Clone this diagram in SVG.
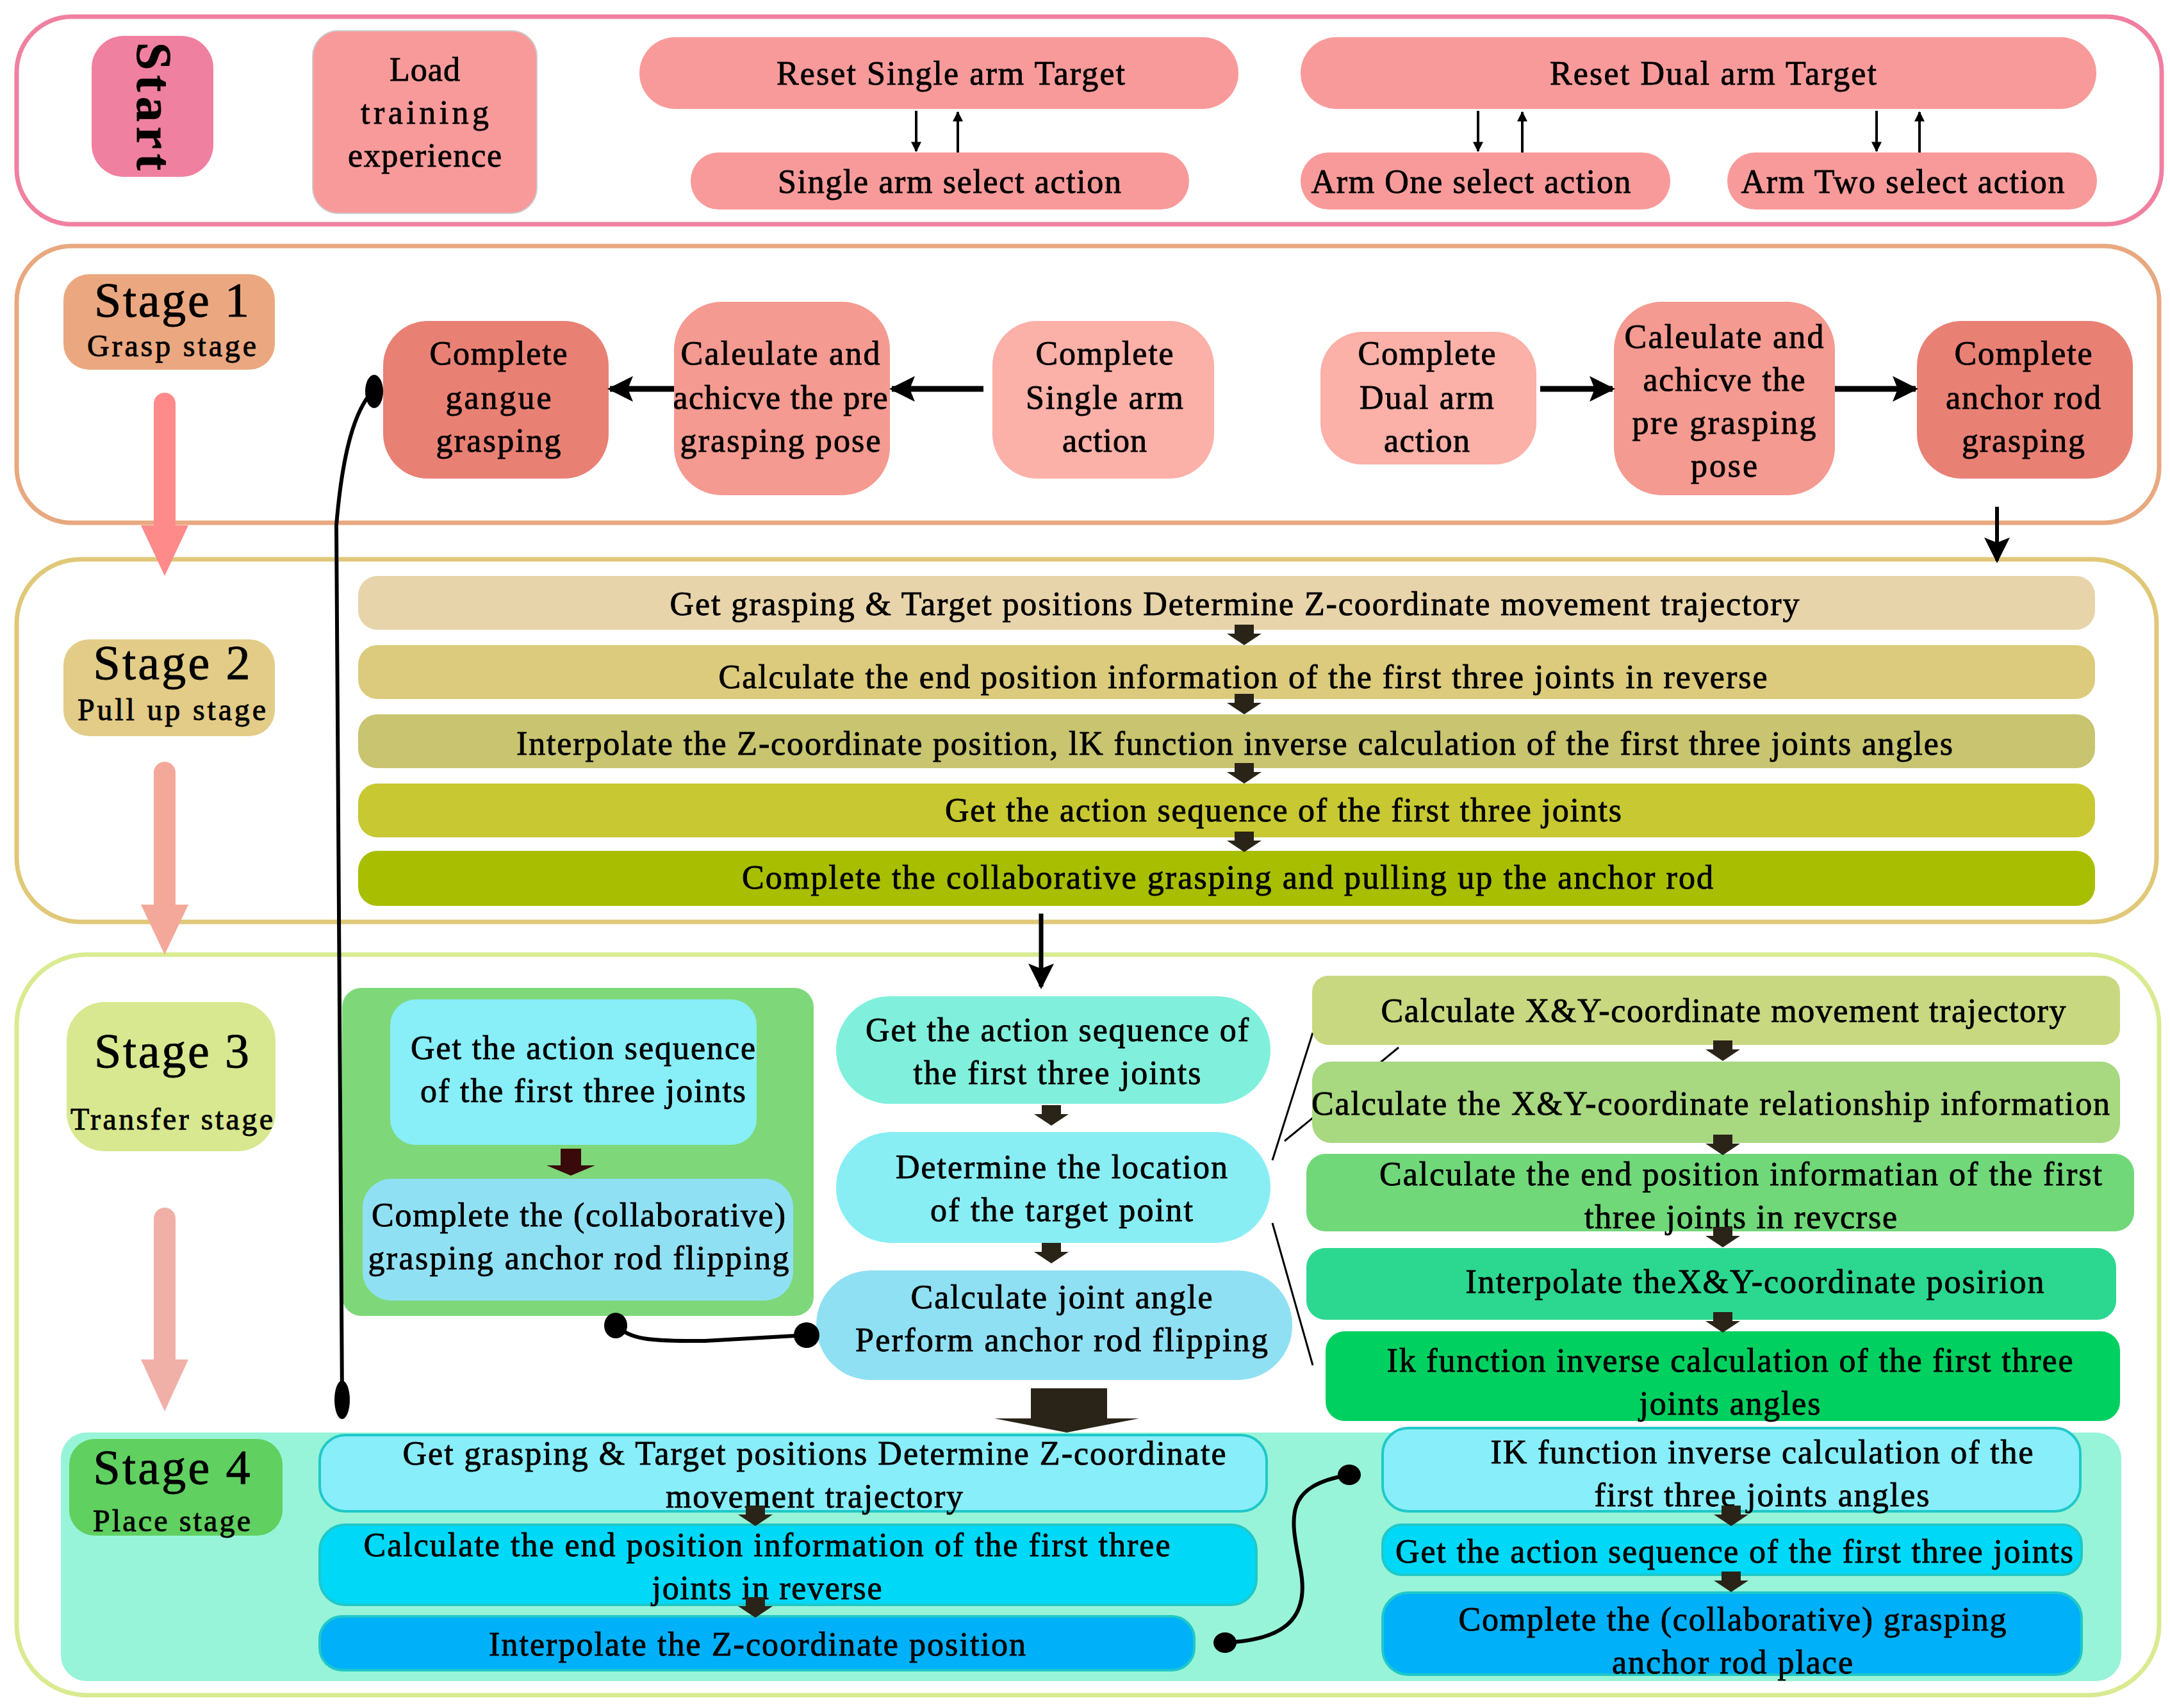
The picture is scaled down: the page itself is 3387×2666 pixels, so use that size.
<svg xmlns="http://www.w3.org/2000/svg" width="3387" height="2666" viewBox="0 0 3387 2666">
<style>
text{font-family:"Liberation Serif",serif;font-size:52px;fill:#000;stroke:#000;stroke-width:0.9;text-anchor:middle;lengthAdjust:spacingAndGlyphs}
.st{font-size:76px}
.ss{font-size:48px}
.frame{fill:none;stroke-width:7}
.ln{stroke:#000;fill:none}
</style>
<defs>
<marker id="hb" viewBox="0 0 10 10" refX="9" refY="5" markerWidth="44" markerHeight="40" markerUnits="userSpaceOnUse" orient="auto"><path d="M0,0 L10,5 L0,10 L2,5 z" fill="#000"/></marker>
<marker id="hs" viewBox="0 0 10 10" refX="9" refY="5" markerWidth="26" markerHeight="16" markerUnits="userSpaceOnUse" orient="auto"><path d="M0,0 L10,5 L0,10 z" fill="#000"/></marker>
<path id="sa" d="M-15,-20 h30 v14 h12 l-27,18 l-27,-18 h12 z" fill="#2a2418"/>
</defs>
<rect width="3387" height="2666" fill="#fff"/>

<g id="frames">
<rect class="frame" x="26" y="26" width="3348" height="324" rx="86" stroke="#F080A0"/>
<rect class="frame" x="26" y="384" width="3344" height="432" rx="86" stroke="#E8A880"/>
<rect class="frame" x="26" y="873" width="3340" height="566" rx="100" stroke="#E0C878"/>
<rect class="frame" x="26" y="1490" width="3344" height="1156" rx="110" stroke="#D8EB90"/>
<rect x="95" y="2236" width="3216" height="388" rx="40" fill="#98F4D8"/>
</g>

<g id="start"><rect x="143" y="56" width="190" height="220" rx="50" fill="#F080A0"/>
<text x="0" y="0" transform="translate(214,166) rotate(90)" style="font-size:78px;font-weight:bold" textLength="200">Start</text></g>
<g id="load"><rect x="488" y="48" width="350" height="285" rx="40" fill="#F99A9A" stroke="#ccc" stroke-width="2"/>
<text x="663" y="126" textLength="110">Load</text><text x="663" y="193" textLength="200">training</text><text x="663" y="260" textLength="240">experience</text></g>
<g id="resetSingle"><rect x="998" y="58" width="935" height="112" rx="56" fill="#F99A9A"/><text x="1484" y="132" textLength="544">Reset Single arm Target</text></g>
<g id="singleSelect"><rect x="1078" y="238" width="778" height="89" rx="44" fill="#F99A9A"/><text x="1482" y="301" textLength="536">Single arm select action</text></g>
<g id="resetDual"><rect x="2030" y="58" width="1242" height="112" rx="56" fill="#F99A9A"/><text x="2674" y="132" textLength="510">Reset Dual arm Target</text></g>
<g id="armOne"><rect x="2030" y="238" width="577" height="89" rx="44" fill="#F99A9A"/><text x="2296" y="301" textLength="499">Arm One select action</text></g>
<g id="armTwo"><rect x="2696" y="238" width="577" height="89" rx="44" fill="#F99A9A"/><text x="2970" y="301" textLength="505">Arm Two select action</text></g>

<g id="stage1"><rect x="99" y="428" width="330" height="149" rx="40" fill="#EBA880"/>
<text class="st" x="268" y="494" textLength="242">Stage 1</text><text class="ss" x="268" y="556" textLength="264">Grasp stage</text></g>
<g id="gangue"><rect x="598" y="501" width="352" height="246" rx="70" fill="#E98074"/>
<text x="778" y="569" textLength="215">Complete</text><text x="778" y="638" textLength="165">gangue</text><text x="778" y="705" textLength="195">grasping</text></g>
<g id="calc1"><rect x="1052" y="471" width="337" height="302" rx="75" fill="#F49A90"/>
<text x="1218" y="569" textLength="311">Caleulate and</text><text x="1218" y="638" textLength="335">achicve the pre</text><text x="1218" y="705" textLength="313">grasping pose</text></g>
<g id="single1"><rect x="1549" y="501" width="346" height="246" rx="70" fill="#FBB0A8"/>
<text x="1724" y="569" textLength="215">Complete</text><text x="1724" y="638" textLength="246">Single arm</text><text x="1724" y="705" textLength="132">action</text></g>
<g id="dual1"><rect x="2061" y="518" width="337" height="207" rx="65" fill="#FBB0A8"/>
<text x="2227" y="569" textLength="215">Complete</text><text x="2227" y="638" textLength="210">Dual arm</text><text x="2227" y="705" textLength="134">action</text></g>
<g id="calc2"><rect x="2519" y="471" width="345" height="302" rx="75" fill="#F49A90"/>
<text x="2691" y="543" textLength="311">Caleulate and</text><text x="2691" y="610" textLength="253">achicve the</text><text x="2691" y="677" textLength="287">pre grasping</text><text x="2691" y="744" textLength="104">pose</text></g>
<g id="anchor1"><rect x="2992" y="501" width="337" height="246" rx="70" fill="#E98074"/>
<text x="3158" y="569" textLength="215">Complete</text><text x="3158" y="638" textLength="242">anchor rod</text><text x="3158" y="705" textLength="192">grasping</text></g>

<g id="stage2"><rect x="99" y="998" width="330" height="151" rx="40" fill="#E3CC88"/>
<text class="st" x="268" y="1060" textLength="245">Stage 2</text><text class="ss" x="268" y="1124" textLength="294">Pull up stage</text></g>
<g id="bar1"><rect x="559" y="899" width="2711" height="84" rx="30" fill="#E8D4AA"/><text x="1927" y="960" textLength="1763">Get grasping &amp; Target positions Determine Z-coordinate movement trajectory</text></g>
<g id="bar2"><rect x="559" y="1007" width="2711" height="84" rx="30" fill="#DCCB7C"/><text x="1940" y="1074" textLength="1637">Calculate the end position information of the first three joints in reverse</text></g>
<g id="bar3"><rect x="559" y="1115" width="2711" height="84" rx="30" fill="#C8C470"/><text x="1927" y="1178" textLength="2242">Interpolate the Z-coordinate position, lK function inverse calculation of the first three joints angles</text></g>
<g id="bar4"><rect x="559" y="1223" width="2711" height="84" rx="30" fill="#C8C832"/><text x="2003" y="1282" textLength="1056">Get the action sequence of the first three joints</text></g>
<g id="bar5"><rect x="559" y="1328" width="2711" height="86" rx="30" fill="#A8BE00"/><text x="1916" y="1387" textLength="1516">Complete the collaborative grasping and pulling up the anchor rod</text></g>

<g id="stage3"><rect x="104" y="1564" width="326" height="233" rx="60" fill="#D8E890"/>
<text class="st" x="268" y="1666" textLength="242">Stage 3</text><text class="ss" x="268" y="1763" textLength="316">Transfer stage</text></g>
<g id="greenBox"><rect x="534" y="1542" width="736" height="512" rx="30" fill="#7ED87A"/>
<rect x="609" y="1560" width="572" height="227" rx="40" fill="#88EEF8"/>
<text x="910" y="1653" textLength="538">Get the action sequence</text><text x="910" y="1720" textLength="508">of the first three joints</text>
<rect x="566" y="1840" width="672" height="190" rx="45" fill="#90E0F4"/>
<text x="903" y="1914" textLength="646">Complete the (collaborative)</text><text x="903" y="1981" textLength="657">grasping anchor rod flipping</text></g>

<g id="thin" class="ln" stroke-width="3">
<line x1="1986" y1="1811" x2="2049" y2="1612"/>
<line x1="2005" y1="1781" x2="2183" y2="1635"/>
<line x1="1986" y1="1909" x2="2049" y2="2131"/>
</g>

<g id="mid1"><rect x="1305" y="1555" width="678" height="168" rx="84" fill="#80F0DC"/>
<text x="1650" y="1625" textLength="598">Get the action sequence of</text><text x="1650" y="1692" textLength="449">the first three joints</text></g>
<g id="mid2"><rect x="1305" y="1767" width="678" height="173" rx="86" fill="#88EEF4"/>
<text x="1657" y="1839" textLength="518">Determine the location</text><text x="1657" y="1906" textLength="410">of the target point</text></g>
<g id="mid3"><rect x="1274" y="1983" width="743" height="171" rx="85" fill="#90E0F4"/>
<text x="1657" y="2042" textLength="471">Calculate joint angle</text><text x="1657" y="2109" textLength="644">Perform anchor rod flipping</text></g>

<g id="r1"><rect x="2048" y="1523" width="1261" height="108" rx="25" fill="#C8D880"/><text x="2690" y="1595" textLength="1069">Calculate X&amp;Y-coordinate movement trajectory</text></g>
<g id="r2"><rect x="2048" y="1657" width="1261" height="127" rx="30" fill="#A8D880"/><text x="2670" y="1740" textLength="1246">Calculate the X&amp;Y-coordinate relationship information</text></g>
<g id="r3"><rect x="2039" y="1801" width="1292" height="121" rx="30" fill="#70D878"/><text x="2717" y="1850" textLength="1128">Calculate the end position informatian of the first</text><text x="2717" y="1917" textLength="488">three joints in revcrse</text></g>
<g id="r4"><rect x="2039" y="1948" width="1264" height="112" rx="30" fill="#2CD890"/><text x="2739" y="2018" textLength="903">Interpolate theX&amp;Y-coordinate posirion</text></g>
<g id="r5"><rect x="2069" y="2078" width="1240" height="140" rx="30" fill="#00D060"/><text x="2700" y="2141" textLength="1071">Ik function inverse calculation of the first three</text><text x="2700" y="2208" textLength="283">joints angles</text></g>

<g id="stage4"><rect x="108" y="2246" width="333" height="151" rx="40" fill="#60D060"/>
<text class="st" x="268" y="2316" textLength="245">Stage 4</text><text class="ss" x="268" y="2390" textLength="246">Place stage</text></g>
<g id="l1"><rect x="499" y="2240" width="1478" height="119" rx="40" fill="#88EEFA" stroke="#20C8C8" stroke-width="4"/><text x="1271" y="2286" textLength="1285">Get grasping &amp; Target positions Determine Z-coordinate</text><text x="1271" y="2353" textLength="464">movement trajectory</text></g>
<g id="l2"><rect x="499" y="2380" width="1462" height="125" rx="40" fill="#00D8F8" stroke="#20C8C8" stroke-width="4"/><text x="1197" y="2429" textLength="1259">Calculate the end position information of the first three</text><text x="1197" y="2496" textLength="359">joints in reverse</text></g>
<g id="l3"><rect x="499" y="2523" width="1365" height="84" rx="35" fill="#00B0F8" stroke="#20C8C8" stroke-width="4"/><text x="1182" y="2584" textLength="838">Interpolate the Z-coordinate position</text></g>
<g id="rr1"><rect x="2158" y="2229" width="1089" height="130" rx="40" fill="#88EEFA" stroke="#20C8C8" stroke-width="4"/><text x="2750" y="2284" textLength="847">IK function inverse calculation of the</text><text x="2750" y="2351" textLength="523">first three joints angles</text></g>
<g id="rr2"><rect x="2158" y="2380" width="1091" height="78" rx="30" fill="#00D8F8" stroke="#20C8C8" stroke-width="4"/><text x="2707" y="2439" textLength="1058">Get the action sequence of the first three joints</text></g>
<g id="rr3"><rect x="2158" y="2486" width="1091" height="128" rx="40" fill="#00B0F8" stroke="#20C8C8" stroke-width="4"/><text x="2704" y="2545" textLength="855">Complete the (collaborative) grasping</text><text x="2704" y="2612" textLength="376">anchor rod place</text></g>

<g id="connectors">
<line class="ln" stroke-width="4" x1="1430" y1="173" x2="1430" y2="236" marker-end="url(#hs)"/>
<line class="ln" stroke-width="4" x1="1495" y1="238" x2="1495" y2="175" marker-end="url(#hs)"/>
<line class="ln" stroke-width="4" x1="2307" y1="173" x2="2307" y2="236" marker-end="url(#hs)"/>
<line class="ln" stroke-width="4" x1="2376" y1="238" x2="2376" y2="175" marker-end="url(#hs)"/>
<line class="ln" stroke-width="4" x1="2929" y1="173" x2="2929" y2="236" marker-end="url(#hs)"/>
<line class="ln" stroke-width="4" x1="2996" y1="238" x2="2996" y2="175" marker-end="url(#hs)"/>

<line class="ln" stroke-width="9" x1="1535" y1="607" x2="1392" y2="607" marker-end="url(#hb)"/>
<line class="ln" stroke-width="9" x1="1052" y1="607" x2="952" y2="607" marker-end="url(#hb)"/>
<line class="ln" stroke-width="9" x1="2404" y1="607" x2="2517" y2="607" marker-end="url(#hb)"/>
<line class="ln" stroke-width="9" x1="2864" y1="607" x2="2990" y2="607" marker-end="url(#hb)"/>
<line class="ln" stroke-width="6" x1="3117" y1="791" x2="3117" y2="875" marker-end="url(#hb)"/>
<line class="ln" stroke-width="7" x1="1625" y1="1426" x2="1625" y2="1540" marker-end="url(#hb)"/>

<path d="M240,630 a17,17 0 0 1 34,0 V820 h20 l-37,79 l-37,-79 h20 z" fill="#FF8A8A"/>
<path d="M240,1206 a17,17 0 0 1 34,0 V1412 h20 l-37,78 l-37,-78 h20 z" fill="#F4A89A"/>
<path d="M240,1902 a17,17 0 0 1 34,0 V2122 h20 l-37,81 l-37,-81 h20 z" fill="#F0B0A8"/>

<use href="#sa" x="1942" y="995"/>
<use href="#sa" x="1942" y="1103"/>
<use href="#sa" x="1942" y="1211"/>
<use href="#sa" x="1942" y="1318"/>
<path d="M875,1793 h32 v26 h22 l-38,16 l-38,-16 h22 z" fill="#3a0a0a"/>
<use href="#sa" x="1641" y="1745"/>
<use href="#sa" x="1641" y="1960"/>
<use href="#sa" x="2689" y="1644"/>
<use href="#sa" x="2689" y="1791"/>
<use href="#sa" x="2689" y="1935"/>
<use href="#sa" x="2689" y="2068"/>
<use href="#sa" x="1179" y="2370"/>
<use href="#sa" x="1179" y="2513"/>
<use href="#sa" x="2702" y="2370"/>
<use href="#sa" x="2702" y="2473"/>
<path d="M1609,2167 h119 v47 h50 l-113,22 l-113,-22 h57 z" fill="#2a2418"/>

<path class="ln" stroke-width="6" d="M581,611 C555,640 535,700 525,820 L534,2185"/>
<ellipse cx="584" cy="611" rx="14" ry="26"/>
<ellipse cx="534" cy="2185" rx="12" ry="30"/>
<path class="ln" stroke-width="6" d="M961,2069 C985,2090 1010,2094 1100,2093 L1259,2084"/>
<ellipse cx="961" cy="2069" rx="18" ry="20"/>
<ellipse cx="1259" cy="2084" rx="20" ry="20"/>
<path class="ln" stroke-width="6" d="M1912,2564 C2000,2560 2045,2530 2030,2450 C2015,2370 2000,2320 2106,2302"/>
<ellipse cx="1912" cy="2564" rx="18" ry="16"/>
<ellipse cx="2106" cy="2302" rx="18" ry="16"/>
</g>
</svg>
